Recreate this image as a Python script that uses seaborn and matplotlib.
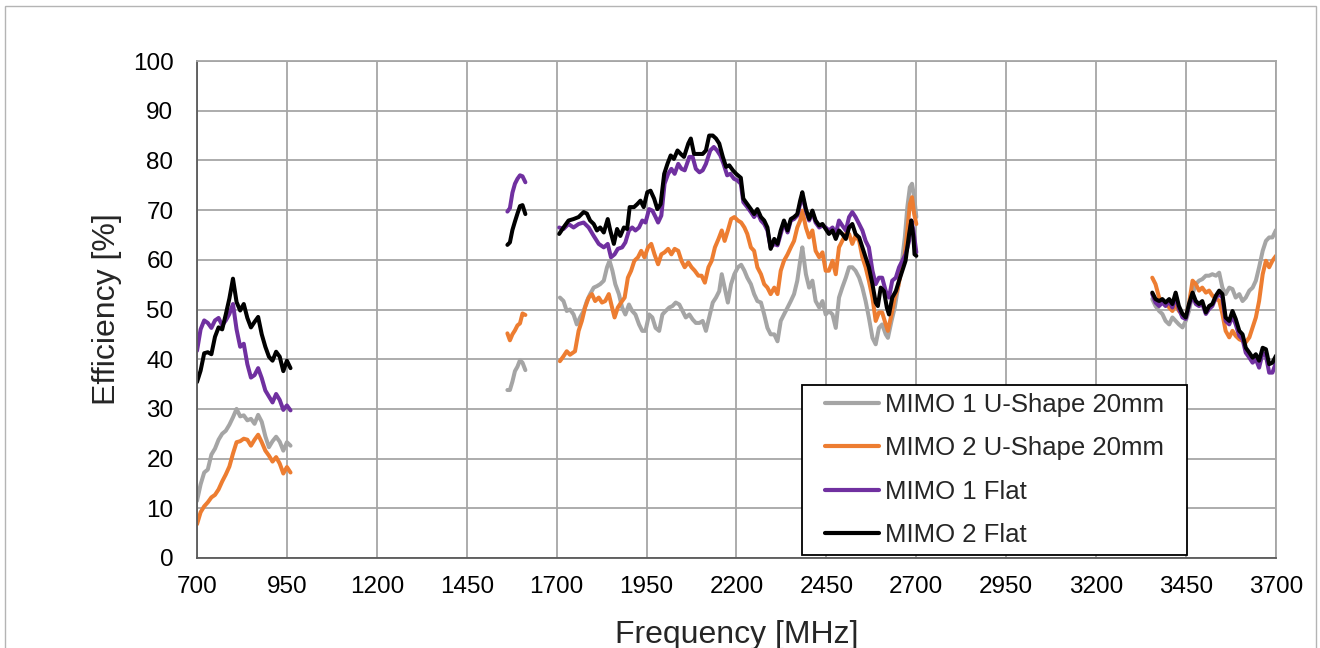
import matplotlib
matplotlib.use("Agg")
import matplotlib.pyplot as plt
from matplotlib.lines import Line2D
from matplotlib.patches import Rectangle
import pandas as pd
import seaborn as sns

# ---------------------------------------------------------------- data
SERIES = ["MIMO 1 U-Shape 20mm", "MIMO 2 U-Shape 20mm", "MIMO 1 Flat", "MIMO 2 Flat"]
COLORS = ["#A5A5A5", "#ED7D31", "#7030A0", "#000000"]

X_TICKS = [700, 950, 1200, 1450, 1700, 1950, 2200, 2450, 2700, 2950, 3200, 3450, 3700]
Y_TICKS = [0, 10, 20, 30, 40, 50, 60, 70, 80, 90, 100]

# 700-960 MHz band
FREQ_LOW = [700, 710, 720, 730, 740, 750, 760, 770, 780, 790, 800, 810, 820, 830,
            840, 850, 860, 870, 880, 890, 900, 910, 920, 930, 940, 950, 960]
M1U_LOW = [11.5, 14.8, 17.2, 17.8, 20.8, 22.0, 23.8, 25.0, 25.6, 26.8, 28.3, 30.0, 28.5, 28.7,
           27.7, 28.0, 27.0, 28.8, 27.4, 24.5, 22.3, 23.5, 24.4, 23.4, 21.6, 23.3, 22.6]
M2U_LOW = [6.8, 9.2, 10.4, 11.2, 12.2, 12.7, 13.8, 15.4, 16.8, 18.4, 21.0, 23.3, 23.5, 24.0,
           23.8, 22.6, 23.8, 24.8, 23.3, 21.6, 20.6, 19.4, 20.3, 19.0, 17.0, 18.3, 17.2]
M1F_LOW = [41.7, 46.0, 47.8, 47.3, 46.3, 47.8, 48.3, 46.8, 47.8, 49.1, 51.1, 46.0, 42.5, 43.1,
           39.0, 36.3, 36.8, 38.2, 36.2, 33.7, 32.5, 31.3, 33.0, 31.8, 29.8, 30.7, 29.7]
M2F_LOW = [35.4, 37.7, 41.2, 41.4, 41.0, 44.5, 46.4, 46.0, 49.0, 52.2, 56.2, 51.5, 49.8, 51.1,
           48.3, 46.4, 47.5, 48.5, 45.0, 42.5, 40.5, 39.7, 41.5, 40.5, 37.6, 39.7, 38.2]

# 1563-1613 MHz band
FREQ_GPS = [1563, 1570, 1577, 1584, 1591, 1598, 1605, 1613]
M1U_GPS = [33.8, 33.8, 35.5, 37.6, 38.5, 39.8, 39.3, 37.8]
M2U_GPS = [45.2, 43.8, 45.0, 45.8, 46.8, 47.2, 49.2, 48.9]
M1F_GPS = [69.7, 70.4, 73.5, 75.3, 76.3, 77.0, 76.8, 75.6]
M2F_GPS = [63.0, 63.5, 66.0, 67.7, 69.3, 70.8, 71.0, 69.2]

# 1707-2700 MHz band
M1U_MID_F = [1709, 1719, 1728, 1737, 1747, 1756, 1765, 1775, 1784, 1793,
             1803, 1812, 1821, 1831, 1840, 1847, 1855, 1863, 1873, 1882,
             1891, 1901, 1910, 1919, 1929, 1938, 1947, 1957, 1966, 1975,
             1985, 1994, 2003, 2013, 2022, 2031, 2041, 2050, 2059, 2069,
             2078, 2087, 2097, 2106, 2115, 2124, 2134, 2143, 2152, 2159,
             2167, 2176, 2185, 2194, 2204,
             2213, 2222, 2230, 2240, 2249, 2258, 2268, 2277, 2286, 2295,
             2305, 2314, 2323, 2332, 2342, 2351, 2360, 2369, 2377, 2383,
             2393, 2402, 2411, 2420, 2430, 2439, 2448, 2457, 2467, 2476,
             2485, 2494, 2504, 2513, 2522, 2531, 2541, 2550, 2559, 2568,
             2578, 2587, 2596, 2605, 2615, 2621, 2631, 2640, 2649, 2658,
             2668, 2675, 2682, 2688, 2694, 2700]
M1U_MID = [52.4, 51.7, 49.7, 50.0, 49.0, 47.0, 48.4, 49.7, 51.7, 53.1,
           54.4, 54.7, 55.1, 55.8, 58.5, 59.8, 57.8, 55.1, 53.1, 50.4,
           49.0, 51.0, 49.7, 49.0, 47.0, 45.7, 45.7, 49.0, 48.4, 46.3,
           45.7, 49.0, 49.7, 50.4, 50.7, 51.4, 51.0, 49.7, 48.4, 49.0,
           48.0, 47.3, 47.3, 47.7, 45.7, 48.4, 51.4, 52.4, 53.7, 57.1,
           54.4, 51.4, 55.1, 57.1, 58.5,
           59.0, 57.8, 56.4, 55.1, 53.1, 51.7, 51.4, 49.0, 46.3, 45.0,
           45.0, 43.6, 47.7, 49.0, 50.4, 51.7, 53.1, 55.8, 59.8, 62.5,
           57.1, 54.4, 55.8, 51.7, 50.4, 51.7, 49.0, 49.7, 49.0, 46.3,
           52.4, 54.4, 56.4, 58.5, 58.5, 57.8, 56.4, 54.4, 51.7, 48.4,
           44.3, 43.0, 46.3, 47.0, 45.0, 44.3, 47.7, 50.4, 54.4, 58.5,
           64.5, 70.6, 74.6, 75.3, 72.6, 68.6]

M2U_MID_F = [1709, 1719, 1728, 1737, 1751, 1761, 1770, 1779, 1789, 1798,
             1807, 1817, 1826, 1835, 1845, 1854, 1861, 1870, 1879, 1889,
             1898, 1907, 1916, 1926, 1935, 1944, 1954, 1963, 1972, 1982,
             1991, 2000, 2010, 2019, 2028, 2038, 2047, 2056, 2066, 2075,
             2084, 2094, 2103, 2112, 2122, 2131, 2140, 2150, 2159, 2167,
             2176, 2185, 2194, 2204,
             2213, 2222, 2230, 2240, 2249, 2258, 2268, 2277, 2286, 2295,
             2305, 2314, 2323, 2332, 2342, 2351, 2360, 2369, 2377, 2383,
             2393, 2402, 2411, 2420, 2430, 2439, 2448, 2457, 2467, 2476,
             2485, 2494, 2504, 2513, 2522, 2531, 2541, 2550, 2559, 2568,
             2578, 2587, 2596, 2605, 2615, 2621, 2631, 2640, 2649, 2658,
             2668, 2675, 2682, 2688, 2694, 2700]
M2U_MID = [39.6, 40.6, 41.6, 40.9, 41.6, 45.7, 47.7, 50.4, 52.4, 53.1,
           51.7, 52.4, 51.4, 51.7, 53.1, 50.4, 48.4, 50.4, 51.4, 52.4,
           56.4, 57.8, 59.8, 60.5, 61.8, 60.5, 62.5, 63.2, 61.1, 59.1,
           61.1, 61.5, 62.2, 61.1, 62.2, 61.8, 59.8, 58.5, 59.5, 58.5,
           57.8, 56.8, 56.8, 55.4, 58.5, 59.8, 62.5, 64.2, 65.9, 63.8,
           65.9, 68.2, 68.6, 67.9,
           67.5, 66.5, 65.2, 62.5, 61.8, 58.5, 57.1, 55.1, 54.4, 53.1,
           54.4, 53.1, 57.8, 59.8, 61.1, 62.5, 63.8, 66.5, 67.9, 69.9,
           66.5, 64.5, 65.9, 61.8, 60.5, 61.5, 57.8, 57.8, 59.8, 57.1,
           62.5, 63.8, 65.2, 65.2, 63.2, 64.9, 63.8, 60.5, 58.5, 55.8,
           52.4, 47.7, 49.4, 49.4, 47.0, 45.7, 49.0, 52.4, 54.4, 57.8,
           61.1, 65.9, 71.2, 72.6, 69.2, 67.2]

M1F_MID_F = [1707, 1719, 1733, 1747, 1761, 1775, 1789, 1803, 1817, 1831,
             1842, 1851, 1861, 1870, 1882, 1891, 1901, 1910, 1919, 1929,
             1938, 1947, 1957, 1966, 1975, 1982, 1991, 2000, 2010, 2019,
             2028, 2038, 2047, 2056, 2069, 2078, 2087, 2097, 2106, 2115,
             2127, 2137, 2146, 2155, 2164, 2174, 2183, 2193, 2202,
             2212, 2219, 2230, 2240, 2249, 2258, 2268, 2277, 2286, 2295,
             2305, 2314, 2323, 2332, 2342, 2351, 2360, 2369, 2377, 2383,
             2393, 2402, 2411, 2420, 2430, 2439, 2448, 2457, 2467, 2476,
             2485, 2494, 2504, 2513, 2522, 2531, 2541, 2550, 2559, 2568,
             2578, 2587, 2596, 2605, 2615, 2624, 2633, 2643, 2652, 2661,
             2670, 2680, 2686, 2692, 2700]
M1F_MID = [66.5, 66.2, 67.2, 66.5, 67.2, 67.5, 66.5, 64.8, 63.2, 62.5,
           63.2, 60.5, 61.1, 62.2, 62.5, 63.5, 65.9, 66.5, 65.9, 66.5,
           67.9, 67.5, 70.2, 69.9, 68.6, 67.5, 68.9, 75.3, 77.3, 78.3,
           77.3, 79.3, 78.3, 78.0, 80.7, 80.7, 78.3, 77.6, 78.0, 79.3,
           82.0, 82.7, 82.0, 81.0, 79.3, 77.0, 77.3, 76.3, 76.0,
           75.3, 71.6, 70.6, 69.6, 68.6, 69.6, 67.9, 67.2, 65.9, 62.5,
           63.2, 62.9, 65.2, 67.5, 65.5, 67.9, 68.2, 68.9, 71.2, 72.9,
           69.9, 67.9, 69.6, 67.5, 66.5, 66.9, 66.5, 65.9, 66.5, 65.2,
           67.9, 66.9, 65.9, 68.6, 69.6, 68.6, 67.2, 65.9, 63.8, 62.5,
           57.8, 55.1, 56.4, 56.4, 53.7, 52.4, 55.8, 56.4, 58.5, 59.8,
           61.1, 63.8, 67.9, 65.9, 61.5]

M2F_MID_F = [1707, 1719, 1733, 1747, 1761, 1775, 1784, 1793, 1803, 1812,
             1821, 1831, 1842, 1849, 1859, 1868, 1877, 1887, 1896, 1903,
             1915, 1924, 1933, 1942, 1952, 1961, 1971, 1980, 1989, 1999,
             2008, 2017, 2026, 2036, 2045, 2054, 2066, 2073, 2082, 2092,
             2106, 2115, 2124, 2134, 2143, 2152, 2162, 2171, 2180, 2190,
             2199, 2212, 2219, 2230, 2240, 2249, 2258, 2268, 2277, 2286,
             2295, 2305, 2314, 2323, 2332, 2342, 2351, 2360, 2369, 2377,
             2383, 2393, 2402, 2411, 2420, 2430, 2439, 2448, 2457, 2467,
             2476, 2485, 2494, 2504, 2513, 2522, 2531, 2541, 2550, 2559,
             2568, 2578, 2587, 2593, 2601, 2610, 2618, 2624, 2633, 2643,
             2652, 2661, 2670, 2680, 2686, 2692, 2695, 2700]
M2F_MID = [65.2, 66.5, 67.9, 68.2, 68.6, 69.6, 69.3, 67.9, 67.2, 65.9,
           66.5, 65.5, 68.2, 65.9, 63.2, 66.2, 64.8, 66.5, 66.2, 70.6,
           70.6, 71.2, 71.9, 70.6, 73.6, 73.9, 72.3, 70.2, 71.2, 77.3,
           79.3, 81.0, 80.3, 82.0, 81.3, 80.7, 83.4, 84.4, 81.3, 81.3,
           81.3, 82.0, 85.0, 85.0, 84.4, 83.4, 80.7, 78.7, 79.0, 78.0,
           77.3, 76.5, 72.3, 71.2, 70.2, 69.2, 70.2, 68.6, 67.9, 66.5,
           62.2, 64.2, 63.2, 65.9, 67.9, 65.9, 68.2, 68.6, 69.2, 71.9,
           73.6, 70.2, 68.2, 69.9, 67.9, 66.9, 67.2, 66.2, 65.2, 65.9,
           64.2, 65.9, 65.2, 64.2, 66.5, 67.2, 65.2, 64.5, 62.5, 60.5,
           58.5, 55.1, 51.4, 50.7, 54.4, 53.7, 50.4, 49.0, 52.4, 53.7,
           55.8, 57.8, 59.8, 65.2, 67.9, 64.5, 61.1, 60.8]

# 3356-3700 MHz band
FREQ_HIGH = [3356, 3365, 3375, 3384, 3393, 3403, 3412, 3421, 3430, 3440,
             3449, 3458, 3468, 3477, 3486, 3495, 3505, 3514, 3523, 3533,
             3542, 3551, 3560, 3570, 3579, 3588, 3598, 3607, 3616, 3626,
             3635, 3644, 3653, 3663, 3672, 3681, 3690, 3700]
M1U_HIGH = [52.1, 50.7, 49.7, 49.1, 47.7, 47.0, 48.4, 47.7, 47.0, 46.4,
            47.7, 49.7, 53.1, 55.1, 55.8, 56.1, 56.8, 56.8, 57.1, 56.8,
            57.4, 54.4, 53.1, 54.4, 54.1, 52.4, 53.1, 51.7, 52.4, 53.8,
            54.4, 55.8, 58.5, 61.8, 63.8, 64.5, 64.5, 66.0]
M2U_HIGH = [56.4, 55.1, 52.4, 51.7, 51.4, 50.4, 49.7, 51.1, 49.7, 49.1,
            48.4, 51.1, 55.8, 55.1, 53.8, 54.4, 53.4, 53.8, 52.8, 52.1,
            51.8, 49.1, 45.7, 44.4, 45.7, 44.7, 44.0, 43.7, 43.4, 44.4,
            46.4, 48.4, 51.7, 57.1, 59.8, 58.5, 59.8, 60.8]
M1F_HIGH = [53.1, 51.4, 50.7, 51.4, 50.7, 51.7, 50.4, 52.8, 50.1, 48.4,
            48.1, 50.7, 52.8, 51.1, 50.7, 51.1, 49.1, 50.1, 50.7, 52.4,
            53.1, 52.4, 47.7, 47.0, 48.7, 47.0, 44.7, 44.0, 41.3, 40.3,
            39.3, 40.0, 38.3, 41.3, 40.7, 37.3, 37.3, 39.3]
M2F_HIGH = [53.4, 52.1, 51.7, 52.1, 51.4, 52.1, 51.1, 53.4, 50.7, 49.1,
            48.4, 51.1, 53.4, 51.7, 51.1, 51.7, 49.4, 50.7, 51.1, 52.8,
            53.8, 53.1, 48.4, 47.7, 49.7, 48.1, 45.7, 45.0, 42.3, 41.3,
            40.3, 41.0, 39.7, 42.3, 42.0, 39.0, 39.3, 40.7]


def band_frame(series, band, freqs, effs):
    if len(freqs) != len(effs):
        raise ValueError(f"{series} / {band}: {len(freqs)} freqs vs {len(effs)} values")
    return pd.DataFrame({"freq": freqs, "eff": effs, "series": series, "band": band})


frames = [
    band_frame(SERIES[0], "low", FREQ_LOW, M1U_LOW),
    band_frame(SERIES[1], "low", FREQ_LOW, M2U_LOW),
    band_frame(SERIES[2], "low", FREQ_LOW, M1F_LOW),
    band_frame(SERIES[3], "low", FREQ_LOW, M2F_LOW),
    band_frame(SERIES[0], "gps", FREQ_GPS, M1U_GPS),
    band_frame(SERIES[1], "gps", FREQ_GPS, M2U_GPS),
    band_frame(SERIES[2], "gps", FREQ_GPS, M1F_GPS),
    band_frame(SERIES[3], "gps", FREQ_GPS, M2F_GPS),
    band_frame(SERIES[0], "mid", M1U_MID_F, M1U_MID),
    band_frame(SERIES[1], "mid", M2U_MID_F, M2U_MID),
    band_frame(SERIES[2], "mid", M1F_MID_F, M1F_MID),
    band_frame(SERIES[3], "mid", M2F_MID_F, M2F_MID),
    band_frame(SERIES[0], "high", FREQ_HIGH, M1U_HIGH),
    band_frame(SERIES[1], "high", FREQ_HIGH, M2U_HIGH),
    band_frame(SERIES[2], "high", FREQ_HIGH, M1F_HIGH),
    band_frame(SERIES[3], "high", FREQ_HIGH, M2F_HIGH),
]
df = pd.concat(frames, ignore_index=True)

# ---------------------------------------------------------------- style
sns.set_style("white")
plt.rcParams["font.family"] = ["Liberation Sans", "DejaVu Sans"]

W, H = 1320, 648
fig = plt.figure(figsize=(W / 100, H / 100), dpi=100)
ax = fig.add_axes([197 / W, 1 - 558 / H, (1276 - 197) / W, (558 - 61) / H])

sns.lineplot(data=df, x="freq", y="eff", hue="series", hue_order=SERIES,
             palette=COLORS, units="band", estimator=None, sort=False,
             linewidth=2.9, legend=False, ax=ax)
for line in ax.get_lines():
    line.set_solid_joinstyle("round")
    line.set_solid_capstyle("round")

ax.set_xlim(X_TICKS[0], X_TICKS[-1])
ax.set_ylim(Y_TICKS[0], Y_TICKS[-1])
ax.set_xticks(X_TICKS)
ax.set_yticks(Y_TICKS)
ax.set_xticklabels([str(t) for t in X_TICKS])
ax.set_yticklabels([str(t) for t in Y_TICKS])

grid_c = "#A6A6A6"
axis_c = "#595959"
ax.grid(True, color=grid_c, linewidth=1.3)
ax.set_axisbelow(True)
for side in ("top", "right"):
    ax.spines[side].set_color(grid_c)
    ax.spines[side].set_linewidth(1.3)
for side in ("left", "bottom"):
    ax.spines[side].set_color(axis_c)
    ax.spines[side].set_linewidth(1.3)

ax.tick_params(axis="both", direction="out", length=6, width=1.3, color=axis_c,
               labelsize=17.5, labelcolor="black")
ax.tick_params(axis="y", pad=11)
ax.tick_params(axis="x", pad=7)

ax.set_xlabel("Frequency [MHz]", fontsize=23, labelpad=16)
ax.set_ylabel("Efficiency [%]", fontsize=23, labelpad=8)

# legend with a white boxed frame
handles = [Line2D([], [], color=c, linewidth=3.0) for c in COLORS]
leg = fig.legend(handles, SERIES, loc="upper left",
                 bbox_to_anchor=(812 / W, 1 - 380 / H), frameon=False,
                 borderpad=0, fontsize=18.5, handlelength=2.1, handletextpad=0.25,
                 labelspacing=0.76)
leg.set_zorder(6)

fig.canvas.draw()
bb = leg.get_window_extent()
pad_x, pad_y = 23, 8
fig.add_artist(Rectangle(((bb.x0 - pad_x) / W, (bb.y0 - pad_y) / H),
                         (bb.width + 2 * pad_x) / W, (bb.height + 2 * pad_y) / H,
                         transform=fig.transFigure, facecolor="white",
                         edgecolor="black", linewidth=1.3, zorder=5))

# outer chart-area border
fig.add_artist(Rectangle((5 / W, -0.05), (1316 - 5) / W, 1.05 - 6 / H,
                         transform=fig.transFigure, fill=False,
                         edgecolor="#B4B4B4", linewidth=1.0, zorder=0))

fig.savefig("out.png", dpi=100)
